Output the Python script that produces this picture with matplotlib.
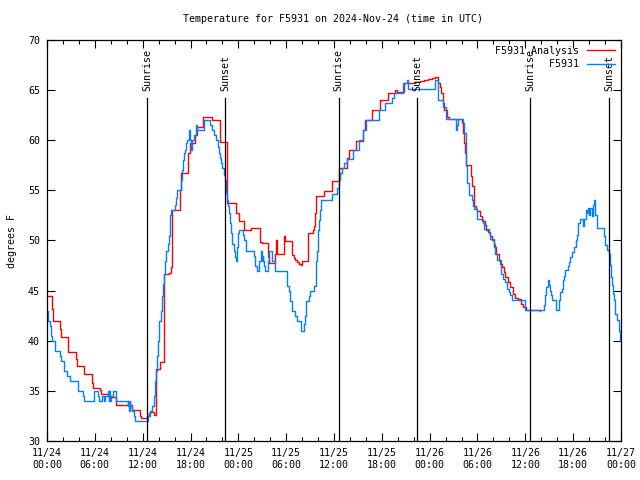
import matplotlib
matplotlib.use("Agg")
import matplotlib.pyplot as plt
import numpy as np

plt.rcParams['font.family'] = ['DejaVu Sans Mono']

title = "Temperature for F5931 on 2024-Nov-24 (time in UTC)"

# hours since 2024-11-24 00:00 UTC, step-post values
analysis_hours = [0.0, 0.63, 0.71, 1.6, 1.76, 2.6, 3.64, 3.77, 4.69, 5.65, 5.77, 6.7, 6.78, 7.74,
                  8.7, 10.67, 11.7, 11.8, 12.55, 12.76, 12.97, 13.47, 13.64, 14.23, 14.72, 15.3,
                  15.56, 15.68, 16.64, 16.8, 17.7, 17.9, 18.6, 18.8, 19.6, 20.7, 21.7, 22.58,
                  23.75, 23.84, 24.04, 24.76, 25.65, 26.76, 27.0, 27.68, 27.8, 28.65, 28.75, 28.85,
                  29.7, 29.8, 30.74, 30.95, 31.15, 31.35, 31.57, 31.8, 32.0, 32.75, 32.8, 33.37,
                  33.5, 33.66, 33.75, 34.8, 35.76, 36.6, 37.6, 37.85, 38.7, 39.7, 39.95, 40.8,
                  41.75, 42.75, 43.7, 43.9, 44.75, 46.2, 46.8, 47.3, 47.8, 48.3, 48.7, 49.1,
                  49.26, 49.44, 49.64, 49.85, 50.2, 50.4, 52.07, 52.2, 52.36, 52.48, 52.6, 53.2,
                  53.32, 53.5, 53.6, 53.85, 54.0, 54.28, 54.58, 55.0, 55.12, 55.28, 55.62, 55.83,
                  56.1, 56.37, 56.66, 56.88, 57.1, 57.3, 57.5, 57.8, 58.13, 58.47, 58.76, 59.05,
                  59.4, 59.72, 60.14, 61.9]
analysis_temps = [44.5, 43.2, 42.0, 41.2, 40.4, 38.9, 38.2, 37.5, 36.7, 35.8, 35.3, 35.1, 34.7, 34.4,
                  33.6, 33.1, 32.5, 32.3, 32.5, 32.8, 32.9, 32.6, 37.2, 37.9, 46.7, 46.8,
                  47.4, 53.0, 55.0, 56.7, 58.7, 59.7, 60.5, 61.35, 62.3, 62.0, 59.85, 53.7,
                  52.7, 52.7, 51.9, 51.0, 51.2, 49.9, 49.8, 48.4, 47.8, 48.7, 50.0, 48.7,
                  50.4, 49.95, 48.55, 48.3, 48.05, 47.9, 47.7, 47.6, 48.0, 49.4, 50.7, 51.05,
                  51.4, 52.7, 54.4, 54.9, 55.9, 57.2, 58.2, 59.0, 59.9, 61.0, 62.0, 63.0,
                  64.0, 64.7, 65.0, 64.85, 65.74, 65.8, 65.9, 66.0, 66.1, 66.2, 66.3, 65.7,
                  65.3, 64.7, 63.7, 63.0, 62.35, 62.1, 61.7, 60.7, 59.7, 58.7, 57.5, 56.4,
                  55.4, 54.4, 53.4, 53.1, 52.9, 52.4, 51.9, 51.55, 51.05, 50.8, 50.4, 50.05,
                  49.4, 48.7, 48.1, 47.7, 47.4, 46.9, 46.4, 45.9, 45.4, 44.7, 44.3, 44.2,
                  43.7, 43.4, 43.07, 43.0]

obs_hours = [0.0, 0.08, 0.33, 0.5, 0.55, 0.63, 1.05, 1.6, 1.76, 2.18, 2.5, 2.93, 3.85, 4.48, 4.6,
             5.86, 6.36, 6.49, 6.9, 7.1, 7.3, 7.6, 7.74, 7.82, 7.95, 8.03, 8.28, 8.66, 10.1, 10.2,
             10.3, 10.4, 10.46, 10.67, 10.96, 11.09, 12.64, 12.97, 13.18, 13.39, 13.6, 13.72, 13.8,
             13.9, 14.0, 14.3, 14.43, 14.55, 14.72, 14.84, 14.97, 15.13, 15.26, 15.38, 15.47, 15.56,
             16.1, 16.22, 16.31, 16.81, 16.94, 17.06, 17.23, 17.35, 17.48, 17.56, 17.82, 17.95, 18.1,
             18.25, 18.4, 18.73, 18.8, 19.65, 20.5, 20.7, 21.0, 21.24, 21.4, 21.58, 21.75, 21.87,
             22.0, 22.16, 22.3, 22.4, 22.5, 22.58, 22.67, 22.79, 22.9, 23.1, 23.2, 23.4, 23.63,
             23.75, 23.84, 23.96, 24.04, 24.55, 24.7, 24.9, 26.0, 26.1, 26.35, 26.55, 26.8, 26.85,
             26.95, 27.05, 27.15, 27.25, 27.3, 27.7, 27.8, 27.9, 28.2, 28.55, 30.1, 30.3, 30.5,
             30.7, 31.15, 31.37, 31.87, 32.2, 32.3, 32.5, 32.9, 33.0, 33.5, 33.7, 33.8, 33.88,
             33.96, 34.1, 34.2, 34.4, 35.76, 36.4, 36.6, 36.8, 37.0, 37.2, 37.65, 38.4, 39.15,
             39.7, 40.06, 41.7, 42.4, 43.3, 43.55, 44.6, 45.15, 45.3, 48.7, 49.0, 49.1, 49.7,
             50.0, 51.35, 51.45, 51.6, 52.2, 52.35, 52.5, 52.6, 52.7, 52.9, 53.3, 53.45, 53.5,
             54.0, 54.7, 54.8, 55.4, 55.55, 56.05, 56.2, 56.25, 56.45, 56.9, 57.0, 57.2, 57.4,
             57.7, 57.9, 58.1, 58.35, 59.9, 62.3, 62.5, 62.65, 62.8, 62.95, 63.1, 63.25, 63.35,
             63.8, 64.2, 64.3, 64.6, 64.75, 64.9, 65.0, 65.3, 65.45, 65.65, 65.85, 66.05, 66.3,
             66.5, 66.6, 66.8, 67.25, 67.35, 67.55, 67.7, 67.8, 67.95, 68.1, 68.3, 68.5, 68.65,
             68.8, 68.95, 69.05, 69.9, 70.05, 70.25, 70.45, 70.6, 70.75, 70.9, 71.0, 71.1, 71.3,
             71.45, 71.7, 71.85, 72.0]
obs_temps = [43.0, 42.0, 41.5, 41.0, 40.5, 40.0, 39.0, 38.5, 38.0, 37.0, 36.5, 36.0, 35.0, 34.5, 34.0,
             35.0, 34.5, 34.0, 34.5, 34.0, 34.5, 35.0, 34.0, 35.0, 34.0, 34.5, 35.0, 34.0, 33.5, 34.0,
             33.0, 34.0, 33.5, 33.0, 32.5, 32.0, 32.5, 33.0, 33.5, 34.5, 36.0, 37.0, 38.5,
             40.0, 42.0, 43.0, 44.5, 45.7, 46.7, 48.0, 49.0, 49.7, 50.4, 51.7, 52.5, 53.0,
             53.5, 54.2, 55.0, 56.0, 57.0, 58.0, 58.7, 59.0, 59.7, 60.0, 61.0, 60.0, 59.0,
             60.0, 60.5, 61.5, 61.0, 62.0, 61.5, 61.0, 60.5, 60.0, 59.35, 58.7, 58.2, 57.7,
             57.2, 56.5, 56.0, 55.4, 54.7, 54.0, 53.4, 52.7, 51.7, 50.7, 49.7, 49.0, 48.4,
             48.0, 49.4, 50.7, 51.0, 50.5, 50.0, 49.0, 48.5, 47.5, 47.0, 48.0, 48.4, 49.0,
             48.0, 48.5, 48.0, 47.5, 47.0, 48.0, 48.7, 49.0, 48.0, 47.0, 45.5, 45.0, 44.0,
             43.0, 42.5, 42.0, 41.0, 41.7, 42.5, 44.0, 44.5, 45.0, 45.5, 47.0, 48.0, 49.0,
             51.0, 52.0, 53.0, 54.0, 54.6, 55.2, 56.0, 56.7, 57.2, 57.7, 58.1, 59.0, 60.0,
             61.0, 62.0, 63.0, 63.7, 64.2, 64.7, 65.7, 66.0, 65.1, 66.0, 65.0, 64.0, 63.35,
             62.1, 61.0, 61.5, 62.1, 61.7, 60.7, 59.0, 57.4, 55.7, 54.5, 54.0, 53.4, 53.1,
             52.1, 51.7, 51.1, 50.7, 50.1, 49.7, 49.2, 48.7, 48.05, 47.4, 46.7, 46.2, 45.9,
             45.2, 44.9, 44.56, 44.06, 43.07, 43.57, 44.56, 45.4, 46.06, 45.56, 45.0, 44.56, 44.06,
             43.07, 44.06, 44.9, 45.2, 46.06, 46.5, 47.06, 47.5, 47.9, 48.4, 48.9, 49.4, 50.05,
             50.55, 51.7, 52.1, 51.4, 52.1, 53.04, 52.7, 53.2, 52.5, 53.2, 52.4, 53.5, 54.04,
             52.5, 52.05, 51.2, 50.4, 49.55, 49.05, 48.7, 47.55, 46.4, 45.56, 44.7, 44.06, 42.7,
             42.07, 41.0, 40.0, 40.0]

sun_hours = [12.58, 22.33, 36.59, 46.46, 60.64, 70.55]
sun_labels = ["Sunrise", "Sunset", "Sunrise", "Sunset", "Sunrise", "Sunset"]

xtick_hours = [0, 6, 12, 18, 24, 30, 36, 42, 48, 54, 60, 66, 72]
xtick_labels = ["11/24\n00:00", "11/24\n06:00", "11/24\n12:00", "11/24\n18:00",
                "11/25\n00:00", "11/25\n06:00", "11/25\n12:00", "11/25\n18:00",
                "11/26\n00:00", "11/26\n06:00", "11/26\n12:00", "11/26\n18:00",
                "11/27\n00:00"]
ytick_values = [30, 35, 40, 45, 50, 55, 60, 65, 70]

fig = plt.figure(figsize=(6.4, 4.8), dpi=100)
ax = fig.add_axes([47/640, 39/480, 574/640, 401/480])

ax.plot(analysis_hours, analysis_temps, drawstyle='steps-post', color='#ff0000', lw=1.0,
        label="F5931 Analysis")
ax.plot(obs_hours, obs_temps, drawstyle='steps-post', color='#0080ff', lw=1.0,
        label="         F5931")

for h, lab in zip(sun_hours, sun_labels):
    ax.axvline(h, ymin=0, ymax=0.855, color='black', lw=0.9)
    ax.text(h, 0.872, lab, transform=ax.get_xaxis_transform(), rotation=90,
            ha='center', va='bottom', fontsize=7.2)

ax.set_xlim(0, 72)
ax.set_ylim(30, 70)
ax.set_xticks(xtick_hours)
ax.set_xticklabels(xtick_labels, fontsize=7.2, linespacing=1.3)
ax.set_xticks(np.arange(0, 73, 2), minor=True)
ax.set_yticks(ytick_values)
ax.set_yticklabels([str(v) for v in ytick_values], fontsize=7.2)
ax.tick_params(which='both', direction='in', top=True, right=True, width=0.8)
ax.tick_params(which='major', length=6, pad=5)
ax.tick_params(which='minor', length=3)
for s in ax.spines.values():
    s.set_linewidth(0.9)

ax.set_ylabel("degrees F", fontsize=7.2, labelpad=8)
fig.text(333/640, 1 - 19/480, title, ha='center', va='center', fontsize=7.2)

leg = ax.legend(loc='upper right', frameon=False, markerfirst=False, fontsize=7.2,
                handlelength=2.8, handletextpad=0.8, borderaxespad=0.2, labelspacing=0.35)

fig.savefig("out.png", dpi=100)
